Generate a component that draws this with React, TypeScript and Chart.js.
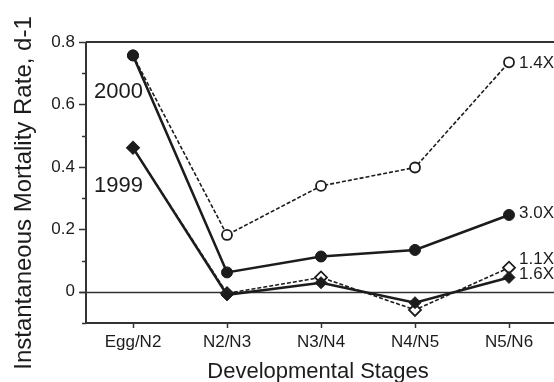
import React, { useEffect, useRef } from "react";
import { Chart, registerables } from "chart.js";

Chart.register(...registerables);

// ---------- data ----------
const stages = ["Egg/N2", "N2/N3", "N3/N4", "N4/N5", "N5/N6"];
const rate2000Solid = [0.757, 0.062, 0.113, 0.134, 0.246]; // 3.0X
const rate2000Dashed = [0.757, 0.182, 0.339, 0.398, 0.735]; // 1.4X
const rate1999Solid = [0.461, -0.01, 0.029, -0.035, 0.046]; // 1.6X
const rate1999Dashed = [0.461, -0.005, 0.046, -0.058, 0.077]; // 1.1X
const seriesLabels = ["3.0X", "1.6X", "1.4X", "1.1X"];
const yearLabels = ["2000", "1999"];
const yMin = -0.1;
const yMax = 0.8;
const yStep = 0.1;
const yAxisTitle = "Instantaneous Mortality Rate, d-1";
const xAxisTitle = "Developmental Stages";

const INK = "#1c1c1c";
const FONT = "'Liberation Sans', Arial, sans-serif";

const decorPlugin = {
  id: "decor",
  beforeDatasetsDraw(chart: any) {
    const { ctx, chartArea, scales } = chart;
    const y = scales.y;
    const x = scales.x;
    ctx.save();
    ctx.strokeStyle = "#333";
    ctx.lineWidth = 1.6;
    // zero line
    const y0 = Math.round(y.getPixelForValue(0)) + 0.5;
    ctx.beginPath();
    ctx.moveTo(chartArea.left - 6, y0);
    ctx.lineTo(chart.width, y0);
    ctx.stroke();
    // top border
    ctx.lineWidth = 2;
    ctx.beginPath();
    ctx.moveTo(chartArea.left, chartArea.top);
    ctx.lineTo(chart.width, chartArea.top);
    ctx.stroke();
    // left and bottom axes
    ctx.beginPath();
    ctx.moveTo(chartArea.left, chartArea.top);
    ctx.lineTo(chartArea.left, chartArea.bottom);
    ctx.lineTo(chart.width, chartArea.bottom);
    ctx.stroke();
    // y ticks (outward)
    ctx.lineWidth = 1.5;
    y.ticks.forEach((t: any) => {
      const v = Math.round(t.value * 10);
      const major = v % 2 === 0;
      const py = Math.round(y.getPixelForValue(t.value)) + 0.5;
      ctx.beginPath();
      ctx.moveTo(chartArea.left - (major ? 7 : 4), py);
      ctx.lineTo(chartArea.left, py);
      ctx.stroke();
    });
    // x ticks (outward)
    stages.forEach((_, i) => {
      const px = Math.round(x.getPixelForValue(i)) + 0.5;
      ctx.beginPath();
      ctx.moveTo(px, chartArea.bottom);
      ctx.lineTo(px, chartArea.bottom + 5);
      ctx.stroke();
    });
    ctx.restore();
  },
  afterDraw(chart: any) {
    const { ctx, chartArea, scales } = chart;
    const y = scales.y;
    const x = scales.x;
    ctx.save();
    ctx.fillStyle = INK;
    // axis titles
    ctx.font = `24px ${FONT}`;
    ctx.textAlign = "center";
    ctx.textBaseline = "middle";
    ctx.save();
    ctx.translate(24, 193);
    ctx.rotate(-Math.PI / 2);
    ctx.fillText(yAxisTitle, 0, 0);
    ctx.restore();
    ctx.font = `22px ${FONT}`;
    ctx.textBaseline = "alphabetic";
    ctx.fillText(xAxisTitle, (chartArea.left + chartArea.right) / 2 - 3, 378);

    // year labels
    ctx.font = `22px ${FONT}`;
    ctx.textAlign = "right";
    ctx.textBaseline = "middle";
    const x0 = x.getPixelForValue(0) + 10;
    ctx.fillText(yearLabels[0], x0, y.getPixelForValue(rate2000Solid[0]) + 37);
    ctx.fillText(yearLabels[1], x0, y.getPixelForValue(rate1999Solid[0]) + 38);

    // series labels
    ctx.font = `17px ${FONT}`;
    ctx.textAlign = "left";
    const last = stages.length - 1;
    const xl = x.getPixelForValue(last) + 10;
    ctx.fillText(seriesLabels[0], xl, y.getPixelForValue(rate2000Solid[last]) - 2);
    ctx.fillText(seriesLabels[1], xl, y.getPixelForValue(rate1999Solid[last]) - 3);
    ctx.fillText(seriesLabels[2], xl, y.getPixelForValue(rate2000Dashed[last]) + 1);
    ctx.fillText(seriesLabels[3], xl, y.getPixelForValue(rate1999Dashed[last]) - 8);
    ctx.restore();
  },
};

export default function App() {
  const ref = useRef<HTMLCanvasElement | null>(null);
  useEffect(() => {
    if (!ref.current) return;
    const chart = new Chart(ref.current, {
      type: "line",
      data: {
        labels: stages,
        datasets: [
          {
            data: rate2000Solid,
            borderColor: INK,
            borderWidth: 2.6,
            pointStyle: "circle",
            pointRadius: 5.5,
            pointBackgroundColor: INK,
            pointBorderColor: INK,
            pointBorderWidth: 1,
            tension: 0,
          },
          {
            data: rate1999Solid,
            borderColor: INK,
            borderWidth: 2.6,
            pointStyle: "rectRot",
            pointRadius: 6,
            pointBackgroundColor: INK,
            pointBorderColor: INK,
            pointBorderWidth: 1,
            tension: 0,
          },
          {
            data: rate2000Dashed,
            borderColor: INK,
            borderWidth: 1.6,
            borderDash: [4, 2],
            pointStyle: "circle",
            pointRadius: 5,
            pointBackgroundColor: "#ffffff",
            pointBorderColor: INK,
            pointBorderWidth: 1.8,
            tension: 0,
          },
          {
            data: rate1999Dashed,
            borderColor: INK,
            borderWidth: 1.6,
            borderDash: [4, 2],
            pointStyle: "rectRot",
            pointRadius: 6,
            pointBackgroundColor: "#ffffff",
            pointBorderColor: INK,
            pointBorderWidth: 1.8,
            tension: 0,
          },
        ],
      },
      options: {
        responsive: false,
        animation: false,
        events: [],
        layout: { padding: { top: 42, right: 24, left: 0, bottom: 0 } },
        plugins: {
          legend: { display: false },
          tooltip: { enabled: false },
          title: { display: false },
        },
        scales: {
          x: {
            type: "category",
            offset: true,
            grid: { display: false, drawTicks: false },
            border: { display: false },
            ticks: {
              color: INK,
              font: { family: FONT, size: 17 },
              padding: 9,
              maxRotation: 0,
              autoSkip: false,
            },
            afterFit: (s: any) => {
              s.height = 59;
            },
          },
          y: {
            type: "linear",
            min: yMin,
            max: yMax,
            grid: { display: false, drawTicks: false },
            border: { display: false },
            ticks: {
              stepSize: yStep,
              autoSkip: false,
              color: INK,
              font: { family: FONT, size: 17 },
              padding: 11,
              callback: (v: any) => {
                const n = Math.round(Number(v) * 10);
                if (n < 0 || n % 2 !== 0) return "";
                return n === 0 ? "0" : (n / 10).toFixed(1);
              },
            },
            afterFit: (s: any) => {
              s.width = 86;
            },
          },
        },
      },
      plugins: [decorPlugin],
    });
    return () => chart.destroy();
  }, []);

  return (
    <div
      style={{
        position: "fixed",
        left: 0,
        top: 0,
        width: 554,
        height: 382,
        overflow: "hidden",
        background: "#fff",
      }}
    >
      <canvas ref={ref} width={580} height={382} style={{ display: "block", width: 580, height: 382 }} />
    </div>
  );
}
